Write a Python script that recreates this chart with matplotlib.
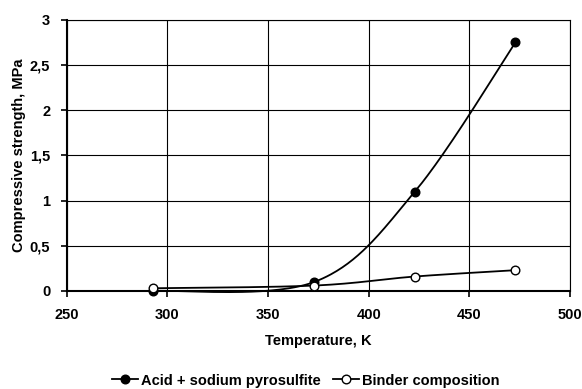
import numpy as np
import matplotlib
matplotlib.use("Agg")
import matplotlib.pyplot as plt
from matplotlib.ticker import FuncFormatter

plt.rcParams['font.family'] = ['Liberation Sans', 'DejaVu Sans']
plt.rcParams['font.weight'] = 'bold'

temperature = [293, 373, 423, 473]
acid_pyrosulfite = [0.0, 0.10, 1.10, 2.75]
binder_composition = [0.03, 0.06, 0.16, 0.23]
series_names = ["Acid + sodium pyrosulfite", "Binder composition"]


def smooth(x, y, n=60):
    # Catmull-Rom style smoothing similar to spreadsheet "smoothed line"
    x = np.asarray(x, float); y = np.asarray(y, float)
    P = np.column_stack([x, y])
    P = np.vstack([P[0], P, P[-1]])
    out = []
    for i in range(1, len(P) - 2):
        p0, p1, p2, p3 = P[i - 1], P[i], P[i + 1], P[i + 2]
        c1 = p1 + (p2 - p0) / 6.0
        c2 = p2 - (p3 - p1) / 6.0
        t = np.linspace(0, 1, n)[:, None]
        seg = ((1 - t) ** 3) * p1 + 3 * ((1 - t) ** 2) * t * c1 + 3 * (1 - t) * t ** 2 * c2 + t ** 3 * p2
        out.append(seg if i == 1 else seg[1:])
    s = np.vstack(out)
    return s[:, 0], s[:, 1]


fig = plt.figure(figsize=(5.82, 3.89), dpi=100)
ax = fig.add_axes([0.115, 0.252, 0.864, 0.697])

for yv, fill, name in [(acid_pyrosulfite, 'black', series_names[0]),
                       (binder_composition, 'white', series_names[1])]:
    sx, sy = smooth(temperature, yv)
    ax.plot(sx, sy, color='black', lw=1.3, zorder=3, clip_on=False)
    ax.plot(temperature, yv, ls='none', marker='o', ms=6.2, mfc=fill, mec='black', mew=1, zorder=4, clip_on=False)
    ax.plot([], [], color='black', lw=1.3, marker='o', ms=6.2, mfc=fill, mec='black', mew=1, label=name)

ax.set_xlim(250, 500)
ax.set_ylim(0, 3)
ax.set_xticks(np.arange(250, 501, 50))
ax.set_yticks(np.arange(0, 3.01, 0.5))
ax.yaxis.set_major_formatter(FuncFormatter(lambda v, p: ('%g' % v).replace('.', ',')))
ax.grid(True, color='black', lw=0.8)
ax.set_axisbelow(True)
for s in ['top', 'right']:
    ax.spines[s].set_linewidth(0.8)
for s in ['left', 'bottom']:
    ax.spines[s].set_linewidth(1.5)
ax.tick_params(direction='out', length=4, width=1.2, labelsize=10.5, pad=8)
for lab in ax.get_xticklabels() + ax.get_yticklabels():
    lab.set_fontweight('bold')

ax.set_xlabel('Temperature, K', fontsize=10.5, fontweight='bold', labelpad=9)
ax.set_ylabel('Compressive strength, MPa', fontsize=10.5, fontweight='bold', labelpad=3)

fig.legend(loc='lower center', bbox_to_anchor=(0.525, -0.03), ncol=2, frameon=False,
           handlelength=1.8, handletextpad=0.2, columnspacing=0.8,
           prop={'weight': 'bold', 'size': 10.5})

fig.savefig('out.png', dpi=100)
